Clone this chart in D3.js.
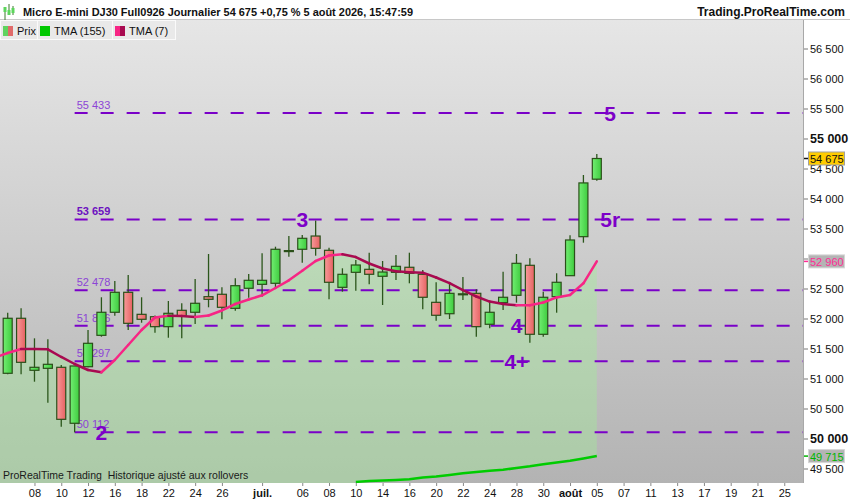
<!DOCTYPE html>
<html><head><meta charset="utf-8">
<script src="https://cdn.jsdelivr.net/npm/d3@7"></script>
<style>body{margin:0;background:#fff;} svg{display:block;font-family:"Liberation Sans",Arial,sans-serif;}</style>
</head><body><svg id="c" width="850" height="500"></svg>
<script>
// ---------- DATA ----------
const dates = ["06-04","06-05","06-08","06-09","06-10","06-11","06-12","06-15","06-16","06-17","06-18","06-19",
  "06-22","06-23","06-24","06-25","06-26","06-29","06-30","07-01","07-02","07-03","07-06","07-07","07-08","07-09",
  "07-10","07-13","07-14","07-15","07-16","07-17","07-20","07-21","07-22","07-23","07-24","07-27","07-28","07-29",
  "07-30","07-31","08-03","08-04","08-05"];
const open  = [51095,52012,51145,51178,51195,50262,51205,51728,52112,52445,52078,52038,51872,52145,52112,52372,52412,52178,52512,52578,52595,53128,53162,53383,53145,52528,52778,52828,52712,52778,52862,52745,52278,52088,52420,52428,51912,52272,52395,52895,51745,52372,52722,53372,54330];
const high  = [52105,52178,51678,51662,51233,51217,51817,52362,52633,52733,52362,52060,52300,52262,52667,53083,52528,52678,52750,53095,53205,53383,53400,53640,53188,52845,52983,53105,52967,53067,53105,52817,52612,52595,52700,52495,52288,52788,53083,53012,52455,52762,53395,54400,54750];
const low   = [51080,51078,50955,50605,50205,50112,51195,51705,52055,51817,51938,51772,51688,51678,51917,52195,51995,52138,52355,52372,52528,53038,52938,53055,52328,52455,52472,52578,52233,52650,52595,52162,51972,52000,52317,51705,51845,52150,52272,51605,51705,52105,52722,53272,54305];
const close = [52012,51278,51195,51245,50328,51217,51595,52112,52445,51928,51995,51872,52095,52050,52262,52328,52195,52555,52645,52645,53162,53140,53345,53178,52612,52745,52900,52745,52783,52878,52762,52362,52062,52428,52410,51872,52112,52362,52928,51745,52362,52612,53317,54268,54675];
// TMA(7): first value belongs to the session before the first candle (06-03)
const tma7 = [51355,51433,51500,51498,51495,51367,51250,51150,51112,51317,51567,51817,52025,52055,52050,52033,52058,52142,52250,52325,52395,52517,52645,52805,52967,53058,53078,53033,52925,52842,52795,52780,52772,52692,52597,52483,52375,52290,52250,52228,52230,52275,52360,52400,52595,52960];
// TMA(155): below the visible range before 07-10
const tma155 = [null,null,null,null,null,null,null,null,null,null,null,null,null,null,null,null,null,null,null,null,null,null,null,null,null,null,
  49285,49300,49308,49317,49328,49357,49375,49400,49428,49450,49470,49487,49517,49545,49580,49608,49638,49675,49715];
const levelValues = [55433,53659,52478,51886,51297,50112];
const levelLabels = ["55 433","53 659","52 478","51 886","51 297","50 112"];
const levelBold   = [false,true,false,false,false,false];
const levelStartBar = 5;
const waveLabels = ["2","3","4","4+","5","5r"];
const waveBars   = [7,22,38,38,45,45];
const waveValues = [50112,53659,51886,51297,55433,53659];
const xTickBars   = [2,4,6,8,10,12,14,16,19,22,24,26,28,30,32,34,36,38,40,42,44,46,48,50,52,54,56,58];
const xTickLabels = ["08","10","12","16","18","22","24","26","juil.","06","08","10","14","16","20","22","24","28","30","août","05","07","11","13","17","19","21","25"];
const yTicks = [49500,50000,50500,51000,51500,52000,52500,53000,53500,54000,54500,55000,55500,56000,56500];
const lastPrice = 54675, lastTma7 = 52960, lastTma155 = 49715;
const titleText = "Micro E-mini DJ30 Full0926 Journalier 54 675 +0,75 % 5 août 2026, 15:47:59";
const siteText = "Trading.ProRealTime.com";
const footText = "ProRealTime Trading  Historique ajusté aux rollovers";

// ---------- LAYOUT ----------
const W = 850, H = 500;
const PL = 0, PR = 803, PT = 20, PB = 483;
const svg = d3.select("#c");
const x = d3.scaleLinear().domain([-0.575, 59.4]).range([PL, PR]);
const y = d3.scaleLinear().domain([50000, 55000]).range([439, 139]);
const fmt = v => d3.format(",")(v).replace(/,/g, " ");

const defs = svg.append("defs");
const bg = defs.append("linearGradient").attr("id","bg").attr("x1",0).attr("x2",0).attr("y1",0).attr("y2",1);
bg.append("stop").attr("offset","0%").attr("stop-color","#e6e6e6");
bg.append("stop").attr("offset","100%").attr("stop-color","#b3b3b3");
const gg = defs.append("linearGradient").attr("id","gU").attr("x1",0).attr("x2",1);
gg.append("stop").attr("offset","0%").attr("stop-color","#72ee72");
gg.append("stop").attr("offset","100%").attr("stop-color","#3fcc3f");
const rg = defs.append("linearGradient").attr("id","gD").attr("x1",0).attr("x2",1);
rg.append("stop").attr("offset","0%").attr("stop-color","#f79a9a");
rg.append("stop").attr("offset","100%").attr("stop-color","#e66262");
defs.append("clipPath").attr("id","clip").append("rect").attr("x",PL).attr("y",PT).attr("width",PR-PL).attr("height",PB-PT);

svg.append("rect").attr("width",W).attr("height",H).attr("fill","#fff");
svg.append("rect").attr("x",PL).attr("y",PT).attr("width",PR-PL).attr("height",PB-PT).attr("fill","url(#bg)");

const plot = svg.append("g").attr("clip-path","url(#clip)");

// fill between TMA7 and TMA155
const areaIdx = d3.range(-1, close.length);
plot.append("path").datum(areaIdx)
  .attr("fill","rgba(160,240,150,0.38)")
  .attr("d", d3.area()
    .x(i => x(i))
    .y1(i => y(tma7[i+1]))
    .y0(i => (i >= 0 && tma155[i] != null) ? y(tma155[i]) : PB + 5));

// level lines
levelValues.forEach((v,k) => {
  plot.append("line").attr("x1", x(levelStartBar)).attr("x2", PR).attr("y1", y(v)).attr("y2", y(v))
    .attr("stroke","#7a00c8").attr("stroke-width",2).attr("stroke-dasharray","13,13");
  plot.append("text").attr("x", x(levelStartBar)+2).attr("y", y(v)-4)
    .attr("font-size", 11).attr("font-weight", levelBold[k] ? "bold" : "normal")
    .attr("fill", levelBold[k] ? "#6c10c0" : "#8c44d6").text(levelLabels[k]);
});

// TMA155
plot.append("path").datum(d3.range(close.length).filter(i => tma155[i] != null))
  .attr("fill","none").attr("stroke","#00cc00").attr("stroke-width",2.5)
  .attr("d", d3.line().x(i => x(i)).y(i => y(tma155[i])));

// candles
const cg = plot.append("g");
close.forEach((c,i) => {
  const o = open[i], cx = x(i), up = c >= o;
  cg.append("line").attr("x1",cx).attr("x2",cx).attr("y1",y(high[i])).attr("y2",y(low[i]))
    .attr("stroke","#2b561b").attr("stroke-width",1.3);
  const top = y(Math.max(o,c)), bot = y(Math.min(o,c));
  cg.append("rect").attr("x",cx-4.5).attr("width",9).attr("y",top).attr("height",Math.max(1,bot-top))
    .attr("fill", up ? "url(#gU)" : "url(#gD)").attr("stroke","#2b4f1a").attr("stroke-width",1.2);
});

// TMA7 coloured segments
for (let k = 0; k < tma7.length-1; k++) {
  const rising = tma7[k+1] >= tma7[k];
  plot.append("line").attr("x1", x(k-1)).attr("x2", x(k)).attr("y1", y(tma7[k])).attr("y2", y(tma7[k+1]))
    .attr("stroke", rising ? "#f72585" : "#a80a50").attr("stroke-width",2.5).attr("stroke-linecap","round");
}

// wave labels
waveLabels.forEach((t,k) => {
  plot.append("text").attr("x", x(waveBars[k])).attr("y", y(waveValues[k]))
    .attr("text-anchor","middle").attr("dominant-baseline","central")
    .attr("font-size",21).attr("font-weight","bold").attr("fill","#7d00c8").text(t);
});

// footer text
svg.append("text").attr("x",3).attr("y",479).attr("font-size",10.5).attr("fill","#1a1a1a")
  .style("white-space","pre").attr("xml:space","preserve").text(footText);

// ---------- AXES ----------
svg.append("line").attr("x1",PR+0.5).attr("x2",PR+0.5).attr("y1",PT).attr("y2",PB).attr("stroke","#a8a8a8");
const ya = svg.append("g");
yTicks.forEach(v => {
  const bold = v % 5000 === 0;
  ya.append("line").attr("x1",PR+1).attr("x2",PR+5).attr("y1",y(v)).attr("y2",y(v)).attr("stroke","#777");
  ya.append("text").attr("x",PR+7).attr("y",y(v)).attr("dominant-baseline","central")
    .attr("font-size", bold ? 12.5 : 11).attr("font-weight", bold ? "bold" : "normal")
    .attr("fill","#111").text(fmt(v));
});
// price tags
function tag(v, fill, stroke, tcol, tick) {
  ya.append("line").attr("x1",PR+1).attr("x2",PR+5).attr("y1",y(v)).attr("y2",y(v)).attr("stroke",tick).attr("stroke-width",1.5);
  ya.append("rect").attr("x",PR+5.5).attr("y",y(v)-6.5).attr("width",36).attr("height",13)
    .attr("fill",fill).attr("stroke",stroke);
  ya.append("text").attr("x",PR+7).attr("y",y(v)+0.5).attr("dominant-baseline","central")
    .attr("font-size",11).attr("fill",tcol).text(fmt(v));
}
tag(lastPrice, "#ffcc00", "#a0a0a0", "#111", "#111");
tag(lastTma7, "#b4b4b4", "#d6d6d6", "#ff2d95", "#ff2d95");
tag(lastTma155, "#b4b4b4", "#d6d6d6", "#00b400", "#00b400");

const xa = svg.append("g").attr("transform",`translate(0,${PB})`)
  .call(d3.axisBottom(x).tickValues(xTickBars).tickSize(3).tickPadding(3)
    .tickFormat((d,i) => xTickLabels[i]));
xa.select(".domain").remove();
xa.selectAll(".tick line").attr("stroke","#888");
xa.selectAll(".tick text").attr("font-size",11).attr("fill","#111")
  .attr("font-family","'Liberation Sans',Arial,sans-serif")
  .attr("font-weight",(d,i) => /[a-z]/.test(xTickLabels[i]) ? "bold" : "normal");

// ---------- HEADER & LEGEND ----------
svg.append("rect").attr("x",0).attr("y",0).attr("width",W).attr("height",PT).attr("fill","#fff");
svg.append("line").attr("x1",0).attr("x2",W).attr("y1",PT-0.5).attr("y2",PT-0.5).attr("stroke","#c8c8c8");
// icon
const ic = svg.append("g");
[[5,7,13,9],[9,4,10,12],[13,6,9,10]].forEach(([cx,y1,h,yb]) => {
  ic.append("line").attr("x1",cx).attr("x2",cx).attr("y1",y1).attr("y2",y1+h).attr("stroke","#3a7a2a");
  ic.append("rect").attr("x",cx-1.5).attr("y",yb-2).attr("width",3).attr("height",5).attr("fill","#5cd65c");
});
svg.append("text").attr("x",23).attr("y",16).attr("font-size",11.5).attr("font-weight","bold")
  .attr("fill","#111").attr("textLength",390).attr("lengthAdjust","spacingAndGlyphs").text(titleText);
svg.append("text").attr("x",845).attr("y",16).attr("text-anchor","end").attr("font-size",12)
  .attr("font-weight","bold").attr("fill","#111").text(siteText);

const tabs = [
  {x0:0, x1:37, label:"Prix", sw:["#5fd35f","#e06a6a"]},
  {x0:37, x1:112, label:"TMA (155)", sw:["#00c800","#00c800"]},
  {x0:112, x1:175, label:"TMA (7)", sw:["#f72585","#a80a50"]}
];
tabs.forEach(t => {
  svg.append("rect").attr("x",t.x0+0.5).attr("y",PT+0.5).attr("width",t.x1-t.x0).attr("height",19)
    .attr("fill","#e9e9e9").attr("stroke","#fafafa");
  svg.append("rect").attr("x",t.x0+3).attr("y",PT+6).attr("width",5).attr("height",10).attr("fill",t.sw[0]);
  svg.append("rect").attr("x",t.x0+8).attr("y",PT+6).attr("width",5).attr("height",10).attr("fill",t.sw[1]);
  svg.append("text").attr("x",t.x0+17).attr("y",PT+14.5).attr("font-size",11).attr("fill","#111").text(t.label);
});
</script></body></html>
